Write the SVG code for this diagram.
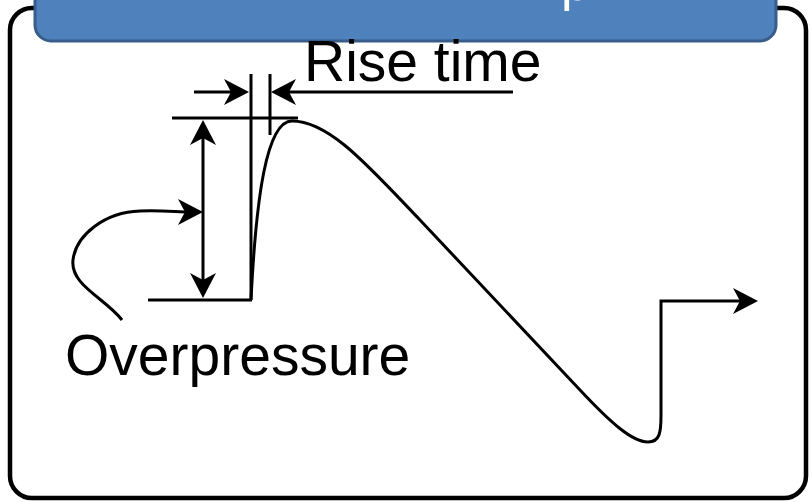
<svg xmlns="http://www.w3.org/2000/svg" width="812" height="504" viewBox="0 0 812 504">
<style>
.ln{fill:none;stroke:#000;stroke-width:3}
.lbl{font-family:"Liberation Sans",Arial,sans-serif;font-size:57px;fill:#000}
</style>
<defs>
<marker id="ah" markerUnits="userSpaceOnUse" markerWidth="40" markerHeight="40" viewBox="-20 -20 40 40" refX="0" refY="0" orient="auto-start-reverse" overflow="visible">
<path d="M12,0 L-13,-13 L-6,0 L-13,13 Z" fill="#000"/>
</marker>
</defs>
<rect id="frame" x="10" y="8" width="796" height="490" rx="22" fill="#fff" stroke="#000" stroke-width="4.5"/>
<g id="header">
<rect x="35" y="-30" width="741" height="71" rx="16" fill="#4F81BD" stroke="#385D8A" stroke-width="3"/>
<text x="561" y="-0.5" font-family="Liberation Sans,Arial,sans-serif" font-size="52" fill="#fff">p</text>
</g>
<g id="connectors">
<line class="ln" x1="194" y1="92" x2="237" y2="92" marker-end="url(#ah)"/>
<line class="ln" x1="513" y1="92" x2="283" y2="92" marker-end="url(#ah)"/>
<line class="ln" x1="251" y1="74" x2="251" y2="300"/>
<line class="ln" x1="270" y1="74" x2="270" y2="135"/>
<line class="ln" x1="172" y1="118" x2="298" y2="118"/>
<line class="ln" x1="203" y1="132" x2="203" y2="286" marker-start="url(#ah)" marker-end="url(#ah)"/>
<line class="ln" x1="148" y1="300" x2="252" y2="300"/>
<path class="ln" d="M122,320 C105,298 70,285 73,260 C76,235 105,212 140,211 C160,210 178,212 191,212" marker-end="url(#ah)"/>
<path class="ln" d="M251,300 C256,200 266,121 292,121 C330,121 370,168 420,220 L580,390 C610,422 632,442 648,442 C660,442 661,432 661,415 L661,301 L746,301" marker-end="url(#ah)"/>
</g>
<g id="rise-label"><text class="lbl" x="304" y="81" font-size="58">Rise time</text></g>
<g id="overpressure-label"><text class="lbl" x="65" y="375">Overpressure</text></g>
</svg>
